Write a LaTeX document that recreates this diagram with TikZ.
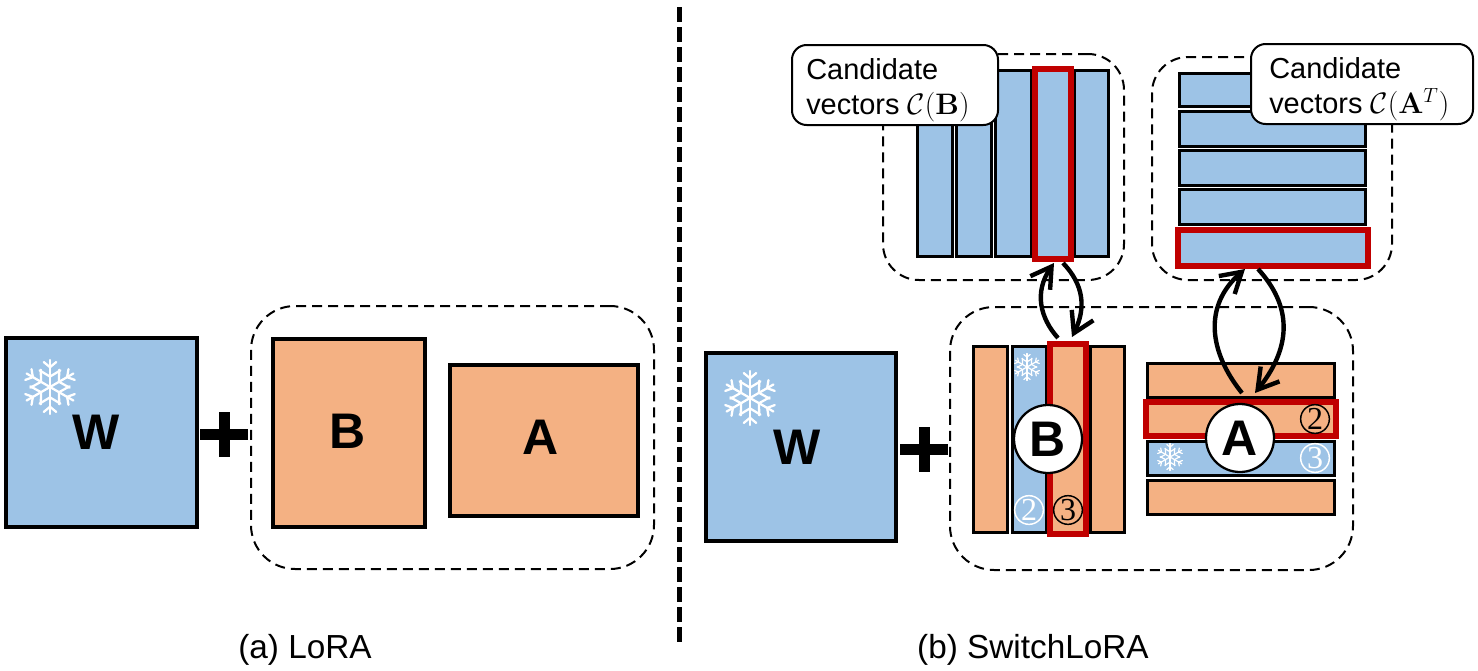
\documentclass[tikz,border=0pt]{standalone}
\usepackage[no-math]{fontspec}
\usepackage{amsmath}
\setmainfont{Liberation Sans}
\usetikzlibrary{arrows.meta,calc}
\definecolor{mblue}{HTML}{9DC3E6}
\definecolor{morange}{HTML}{F4B183}
\definecolor{mred}{HTML}{C00000}
\tikzset{
  x=0.75pt,y=-0.75pt,
  rectbase/.style={inner sep=0,outer sep=0,draw=black,line join=miter},
  bigblue/.style={rectbase,fill=mblue,line width=3pt},
  bigorange/.style={rectbase,fill=morange,line width=3pt},
  stripblue/.style={rectbase,fill=mblue,line width=2.25pt},
  striporange/.style={rectbase,fill=morange,line width=2.25pt},
  redblue/.style={rectbase,fill=mblue,draw=mred,line width=4.5pt},
  redorange/.style={rectbase,fill=morange,draw=mred,line width=4.5pt},
  groupbox/.style={rectbase,line width=1.5pt,dash pattern=on 7.5pt off 4.5pt,rounded corners=33pt},
  smallgroup/.style={groupbox,rounded corners=27pt},
  callout/.style={rectbase,fill=white,line width=1.5pt,rounded corners=11pt},
  calltext/.style={font=\fontsize{21.7}{26.2}\selectfont,align=left,anchor=west,inner sep=0},
  bigletter/.style={font=\bfseries\fontsize{37.5}{45}\selectfont,inner sep=0},
  ball/.style={circle,draw=black,fill=white,line width=1.7pt,minimum size=51pt,inner sep=0,font=\bfseries\fontsize{37.5}{45}\selectfont},
  numblack/.style={circle,draw=black,line width=1.1pt,minimum size=21.5pt,inner sep=0,text=black,font=\fontspec{Liberation Serif}\fontsize{24}{24}\selectfont},
  numwhite/.style={numblack,draw=white,text=white},
  swap/.style={line width=3.3pt,-{Straight Barb[length=15pt,width=18pt,line width=3.3pt]}},
  caption/.style={font=\fontsize{25}{30}\selectfont,inner sep=0},
}
\newcommand{\bx}[6]{\node[#1,minimum width={(#5-#3)*0.75pt},minimum height={(#6-#4)*0.75pt}] (#2) at ({(#3+#5)/2},{(#4+#6)/2}) {};}
\newcommand{\flake}[4]{% x y radius linewidth
  \begin{scope}[shift={(#1,#2)},scale=#3/25,draw=white,line width=#4,line cap=round]
    \foreach \a in {0,60,...,300}{
      \begin{scope}[rotate=\a]
        \draw (0,0)--(0,-26);
        \draw (-6,-24)--(0,-19)--(6,-24);
        \draw (-10,-16)--(0,-10)--(10,-16);
      \end{scope}
    }
  \end{scope}}
\newcommand{\plussign}[3]{% name x y
  \fill[black] (#2-24,#3-5.5) rectangle (#2+24,#3+5.5);
  \fill[black] (#2-5.5,#3-22.5) rectangle (#2+5.5,#3+22.5);}
\begin{document}
\begin{tikzpicture}
\useasboundingbox (0,0) rectangle (1478,671);
% divider
\node[inner sep=0,outer sep=0,minimum size=0pt] (divtop) at (679.5,7) {};
\node[inner sep=0,outer sep=0,minimum size=0pt] (divbot) at (679.5,642) {};
\draw[line width=3.75pt,dash pattern=on 11.25pt off 3.75pt] (divtop) -- (divbot);
% (a)
\bx{bigblue}{wa}{6}{338}{197}{527}
\flake{50}{387}{26}{1.7pt}
\node[bigletter] (wal) at (96,432) {W};
\plussign{pa}{224}{434}
\bx{groupbox}{ga}{251}{306}{654}{569}
\bx{bigorange}{ba}{273}{339}{425}{527}
\node[bigletter] (bal) at (348,431) {B};
\bx{bigorange}{aa}{450}{365}{638}{516}
\node[bigletter] (aal) at (541,437) {A};
\node[caption] (capa) at (305,650) {(a) LoRA};
% (b) main
\bx{bigblue}{wb}{706}{353}{896}{541}
\flake{750}{398}{26}{1.7pt}
\node[bigletter] (wbl) at (797,447) {W};
\plussign{pb}{924}{449}
\bx{groupbox}{gb}{950}{307}{1353}{570}
% B strips
\bx{striporange}{b1}{973.5}{346}{1007}{532}
\bx{stripblue}{b2}{1012}{346}{1046}{532}
\bx{striporange}{b4}{1090.5}{346}{1124}{532}
\bx{redorange}{bred}{1050}{344}{1086}{533.5}
\flake{1027}{367}{13}{0.9pt}
\node[numwhite] (n2b) at (1029,510) {2};
\node[numblack] (n3b) at (1068,510) {3};
\node[ball] (bb) at (1048,439) {B};
% A strips
\bx{striporange}{a1}{1147}{363}{1334}{397.5}
\bx{stripblue}{a3}{1147}{441}{1334}{475}
\bx{striporange}{a4}{1147}{480}{1334}{514}
\bx{redorange}{ared}{1146}{402}{1336}{436}
\flake{1170}{457}{13}{0.9pt}
\node[numblack] (n2a) at (1315,419) {2};
\node[numwhite] (n3a) at (1315,458) {3};
\node[ball] (ab) at (1240,438) {A};
% top-left
\bx{smallgroup}{gtl}{883}{54}{1124}{280}
\bx{stripblue}{t1}{917.5}{70}{952.5}{256}
\bx{stripblue}{t2}{956.5}{70}{991.5}{256}
\bx{stripblue}{t3}{995.5}{70}{1031}{256}
\bx{stripblue}{t5}{1074}{70}{1108.5}{256}
\bx{redblue}{tred}{1035}{69}{1071}{259}
\bx{callout}{cl}{792}{45}{998}{125}
\node[calltext] (clt) at (806,90) {Candidate\\vectors \scalebox{1.07}{$\mathcal{C}(\mathbf{B})$}};
% top-right
\bx{smallgroup}{gtr}{1152}{57}{1392}{280}
\bx{stripblue}{r1}{1179.5}{73}{1365.5}{106}
\bx{stripblue}{r2}{1179.5}{111.5}{1365.5}{146}
\bx{stripblue}{r3}{1179.5}{150.5}{1365.5}{185}
\bx{stripblue}{r4}{1179.5}{189.5}{1365.5}{224}
\bx{redblue}{rred}{1177.5}{230}{1367.5}{266}
\bx{callout}{cr}{1251}{44}{1473}{124}
\node[calltext] (crt) at (1269,89) {Candidate\\vectors \scalebox{1.07}{$\mathcal{C}(\mathbf{A}^T)$}};
% swap arrows
\draw[swap] ($(bred.north)+(-10,-6)$) .. controls (1040,318) and (1034,292) .. ($(tred.south)+(1,4)$);
\draw[swap] ($(tred.south)+(10,4)$) .. controls (1084,285) and (1086,308) .. ($(bred.north)+(4,-7)$);
\draw[swap] ($(ared.north)+(1,-9)$) .. controls (1209,352) and (1203,306) .. ($(rred.south)+(-27.5,3)$);
\draw[swap] ($(rred.south)+(-14.5,3)$) .. controls (1291,305) and (1293,345) .. ($(ared.north)+(14,-9)$);
\node[caption] (capb) at (1033,650) {(b) SwitchLoRA};
\end{tikzpicture}
\end{document}
